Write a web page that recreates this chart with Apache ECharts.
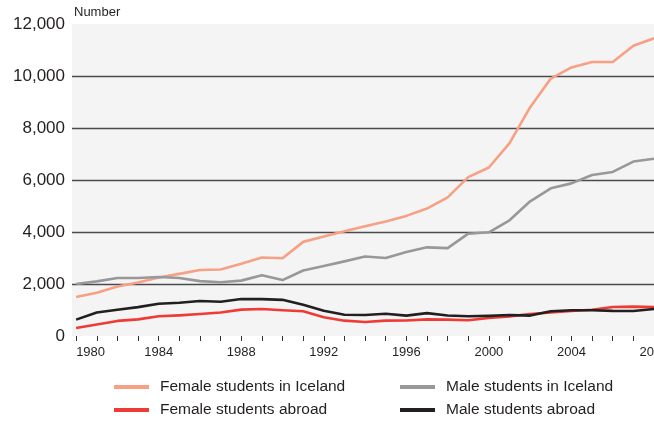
<!DOCTYPE html>
<html>
<head>
<meta charset="utf-8">
<style>
  html, body { margin: 0; padding: 0; background: #fff; }
  #chart { width: 654px; height: 421px; }
</style>
<script src="https://cdn.jsdelivr.net/npm/echarts@6/dist/echarts.min.js"></script>
</head>
<body>
<div id="chart"></div>
<script>
var years = [1980, 1981, 1982, 1983, 1984, 1985, 1986, 1987, 1988, 1989,
  1990, 1991, 1992, 1993, 1994, 1995, 1996, 1997, 1998, 1999,
  2000, 2001, 2002, 2003, 2004, 2005, 2006, 2007, 2008];
var femaleIceland = [1500, 1660, 1900, 2060, 2250, 2390, 2540, 2560, 2780, 3020,
  2990, 3620, 3830, 4030, 4220, 4400, 4620, 4900, 5330, 6110,
  6480, 7420, 8800, 9900, 10330, 10540, 10540, 11160, 11450];
var maleIceland = [2000, 2100, 2230, 2230, 2270, 2230, 2110, 2070, 2130, 2340,
  2150, 2520, 2690, 2870, 3060, 3000, 3230, 3410, 3380, 3935,
  3990, 4450, 5180, 5680, 5870, 6190, 6310, 6710, 6820];
var femaleAbroad = [310, 440, 580, 640, 760, 795, 845, 905, 1015, 1040,
  990, 950, 720, 590, 540, 590, 595, 640, 630, 605,
  690, 755, 845, 905, 960, 1010, 1115, 1130, 1115];
var maleAbroad = [630, 905, 1010, 1110, 1240, 1280, 1345, 1320, 1420, 1420,
  1390, 1200, 970, 820, 810, 855, 785, 880, 790, 760,
  775, 805, 785, 950, 990, 990, 965, 960, 1040];
var yearLabels = [1980, 1984, 1988, 1992, 1996, 2000, 2004, 2008];

var ink = '#231f20';
var chart = echarts.init(document.getElementById('chart'), null, { renderer: 'canvas' });

function pairs(vals) {
  return years.map(function(y, i) { return [y, vals[i]]; });
}

function line(name, vals, color) {
  return {
    name: name,
    type: 'line',
    data: pairs(vals),
    symbol: 'none',
    lineStyle: { color: color, width: 2.6, join: 'round' },
    itemStyle: { color: color }
  };
}

var legendText = {
  fontFamily: 'Liberation Sans, Arial, sans-serif', fontSize: 15.5, color: ink,
  lineHeight: 16, padding: [0, 0, 0, 6]
};

chart.setOption({
  animation: false,
  grid: {
    left: 72, right: 0, top: 24, bottom: 85,
    outerBoundsMode: 'none',
    containLabel: false,
    show: true,
    backgroundColor: '#f4f4f4',
    borderWidth: 0
  },
  legend: [
    {
      left: 114, top: 379, height: 42, padding: 0, orient: 'vertical',
      itemWidth: 35, itemHeight: 4, itemGap: 7, icon: 'rect',
      textStyle: legendText,
      data: ['Female students in Iceland', 'Female students abroad']
    },
    {
      left: 400, top: 379, height: 42, padding: 0, orient: 'vertical',
      itemWidth: 35, itemHeight: 4, itemGap: 7, icon: 'rect',
      textStyle: legendText,
      data: ['Male students in Iceland', 'Male students abroad']
    }
  ],
  xAxis: {
    type: 'value',
    min: 1979.8,
    max: 2008,
    axisLine: { show: false },
    splitLine: { show: false },
    axisTick: {
      show: true, length: 5, customValues: years,
      lineStyle: { color: '#333', width: 1 }
    },
    axisLabel: {
      customValues: yearLabels,
      margin: 10,
      alignMinLabel: 'left',
      fontFamily: 'Liberation Sans Narrow, Arial Narrow, Liberation Sans, sans-serif',
      fontSize: 13,
      color: ink,
      formatter: function(v) { return String(v); }
    }
  },
  yAxis: {
    type: 'value',
    min: 0,
    max: 12000,
    interval: 2000,
    name: 'Number',
    nameLocation: 'end',
    nameGap: 12,
    nameTextStyle: {
      fontFamily: 'Liberation Sans, Arial, sans-serif', fontSize: 13, color: ink,
      align: 'left', verticalAlign: 'middle', padding: [0, 0, 0, 2]
    },
    axisLine: { show: false },
    axisTick: { show: false },
    axisLabel: {
      margin: 7,
      fontFamily: 'Liberation Sans, Arial, sans-serif',
      fontSize: 17,
      color: ink,
      formatter: function(v) { return v.toLocaleString('en-US'); }
    },
    splitLine: {
      show: true, showMinLine: false, showMaxLine: false,
      lineStyle: { color: '#4a4a4a', width: 1.4 }
    }
  },
  series: [
    line('Female students in Iceland', femaleIceland, '#f7a084'),
    line('Male students in Iceland', maleIceland, '#98989b'),
    line('Female students abroad', femaleAbroad, '#ee3b35'),
    line('Male students abroad', maleAbroad, '#231f20')
  ]
});
window.addEventListener('resize', function() { chart.resize(); });
</script>
</body>
</html>
